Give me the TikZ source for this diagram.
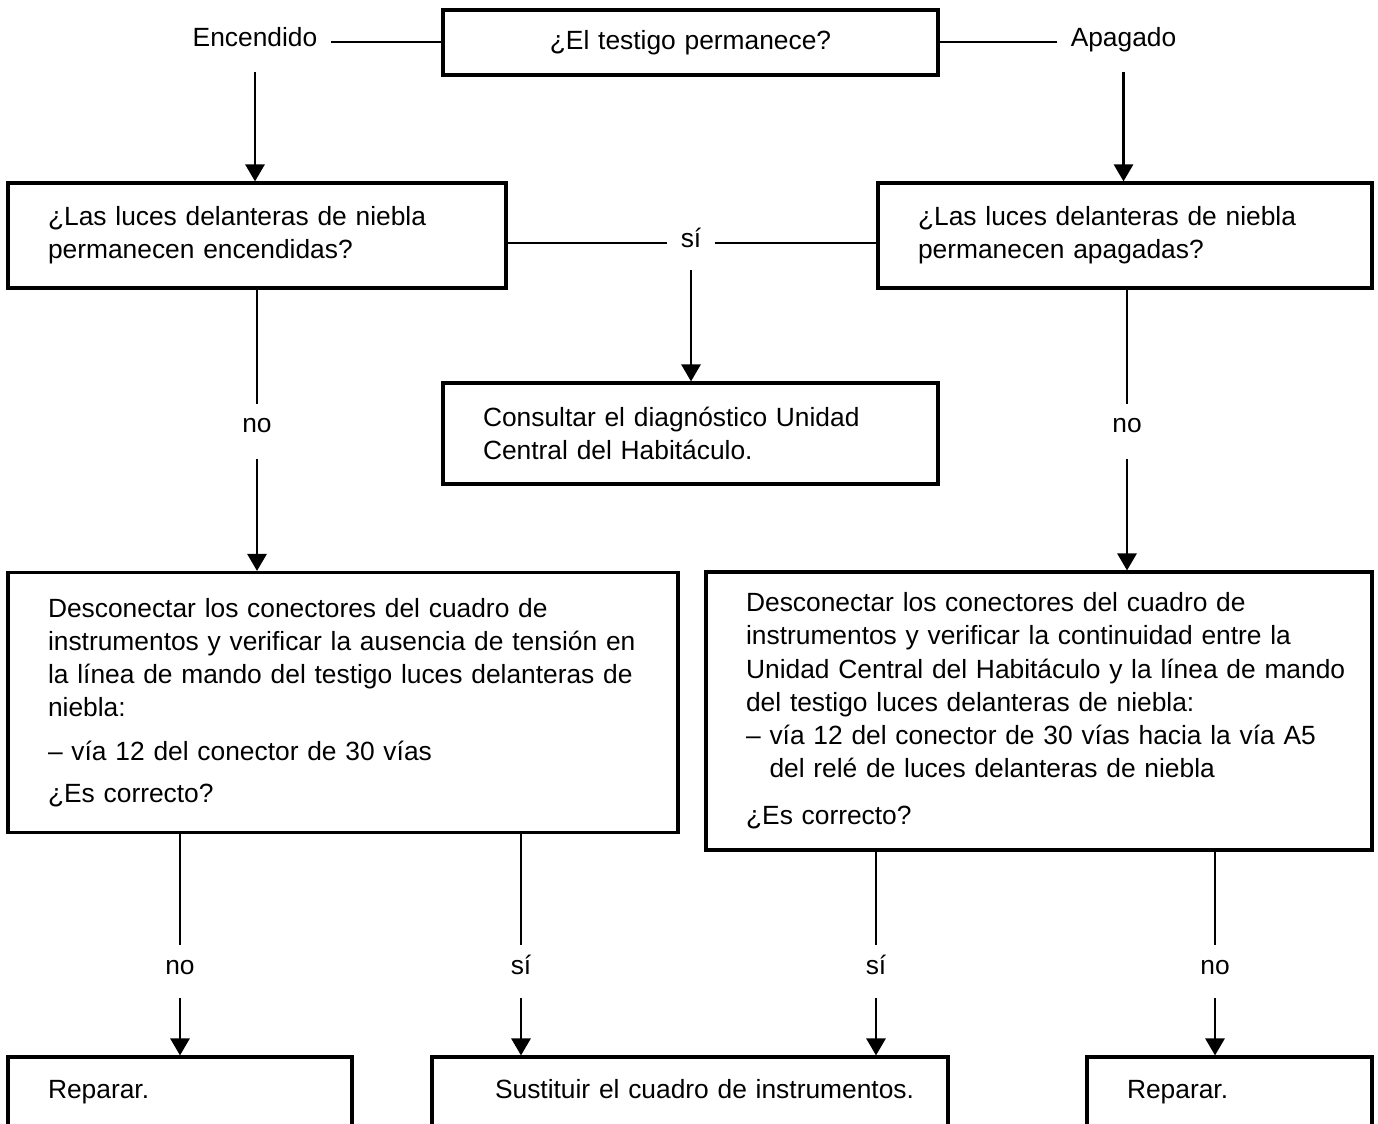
\documentclass[tikz,border=0pt]{standalone}
\usepackage{fontspec}
\setmainfont{Liberation Sans}
\usepackage{tikz}
\usetikzlibrary{arrows.meta,positioning,calc}
\newcommand\mainsize{\fontsize{15pt}{18.9pt}\selectfont}

\begin{document}
\begin{tikzpicture}[
  x=0.02cm, y=-0.02cm,
  box/.style={draw,line width=1.8pt,inner xsep=0.8cm,inner ysep=0pt,align=left,font=\mainsize},
  lbl/.style={inner xsep=0.26cm,inner ysep=0pt,text height=0.7em,text depth=0.2em,font=\mainsize},
  ln/.style={line width=1.6pt},
  arr/.style={-{Triangle[length=0.34cm,width=0.38cm]},line width=1.6pt}
]
\useasboundingbox (0,0) rectangle (1378,1123);
\clip (0,0) rectangle (1378,1123);
\fill[white] (0,0) rectangle (1378,1123);

\node[box,align=center,text width=8.3cm,minimum height=1.3cm] (q0) at (690.5,42.5) {¿El testigo permanece?};
\node[lbl] (enc) at (255,42) {Encendido};
\node[lbl] (apa) at (1123.5,42) {Apagado};

\node[box,text width=8.36cm,minimum height=2.1cm] (q1L) at (257,235.5) {¿Las luces delanteras de niebla\\permanecen encendidas?};
\node[box,text width=8.28cm,minimum height=2.1cm] (q1R) at (1125,235.5) {¿Las luces delanteras de niebla\\permanecen apagadas?};
\node[lbl] (si0) at (691,243) {sí};
\node[box,text width=8.3cm,minimum height=2.02cm] (cuh) at (690.5,433.5) {Consultar el diagnóstico Unidad\\Central del Habitáculo.};

\node[lbl] (noL) at (257,428) {no};
\node[lbl] (noR) at (1127,428) {no};

\node[box,text width=11.8cm,minimum height=5.2cm] (q2L) at (343,702.5) {Desconectar los conectores del cuadro de\\
instrumentos y verificar la ausencia de tensión en\\
la línea de mando del testigo luces delanteras de\\
niebla:\\[6pt]
– vía 12 del conector de 30 vías\\[5pt]
¿Es correcto?};
\node[box,text width=11.72cm,minimum height=5.56cm] (q2R) at (1039,711) {Desconectar los conectores del cuadro de\\
instrumentos y verificar la continuidad entre la\\
\mbox{Unidad Central del Habitáculo y la línea de mando}\\
del testigo luces delanteras de niebla:\\
–~vía 12 del conector de 30 vías hacia la vía A5\\
\phantom{–~}del relé de luces delanteras de niebla\\[8pt]
¿Es correcto?};

\node[lbl] (noA) at (180,970) {no};
\node[lbl] (siA) at (521,970) {sí};
\node[lbl] (siB) at (876,970) {sí};
\node[lbl] (noB) at (1215,970) {no};

\node[box,text width=5.28cm,minimum height=1.4cm] (repL) at (180,1092) {\strut Reparar.};
\node[box,inner xsep=1.26cm,text width=7.8cm,minimum height=1.4cm] (sust) at (690,1092) {\mbox{\strut Sustituir el cuadro de instrumentos.}};
\node[box,text width=4.1cm,minimum height=1.4cm] (repR) at (1229.5,1092) {\strut Reparar.};

\draw[ln] (enc) -- (enc -| q0.west);
\draw[ln] (apa) -- (apa -| q0.east);
\draw[arr,shorten <=0.44cm] (enc) -- (enc |- q1L.north);
\draw[arr,shorten <=0.44cm] (apa) -- (apa |- q1R.north);

\draw[ln] (q1L.east |- si0) -- (si0);
\draw[ln] (si0) -- (si0 -| q1R.west);
\draw[arr,shorten <=0.38cm] (si0) -- (si0 |- cuh.north);

\draw[ln,shorten >=0.32cm] (noL |- q1L.south) -- (noL);
\draw[arr,shorten <=0.46cm] (noL) -- (noL |- q2L.north);
\draw[ln,shorten >=0.32cm] (noR |- q1R.south) -- (noR);
\draw[arr,shorten <=0.46cm] (noR) -- (noR |- q2R.north);

\draw[ln,shorten >=0.34cm] (noA |- q2L.south) -- (noA);
\draw[arr,shorten <=0.4cm] (noA) -- (noA |- repL.north);
\draw[ln,shorten >=0.34cm] (siA |- q2L.south) -- (siA);
\draw[arr,shorten <=0.4cm] (siA) -- (siA |- sust.north);
\draw[ln,shorten >=0.34cm] (siB |- q2R.south) -- (siB);
\draw[arr,shorten <=0.4cm] (siB) -- (siB |- sust.north);
\draw[ln,shorten >=0.34cm] (noB |- q2R.south) -- (noB);
\draw[arr,shorten <=0.4cm] (noB) -- (noB |- repR.north);
\end{tikzpicture}
\end{document}
